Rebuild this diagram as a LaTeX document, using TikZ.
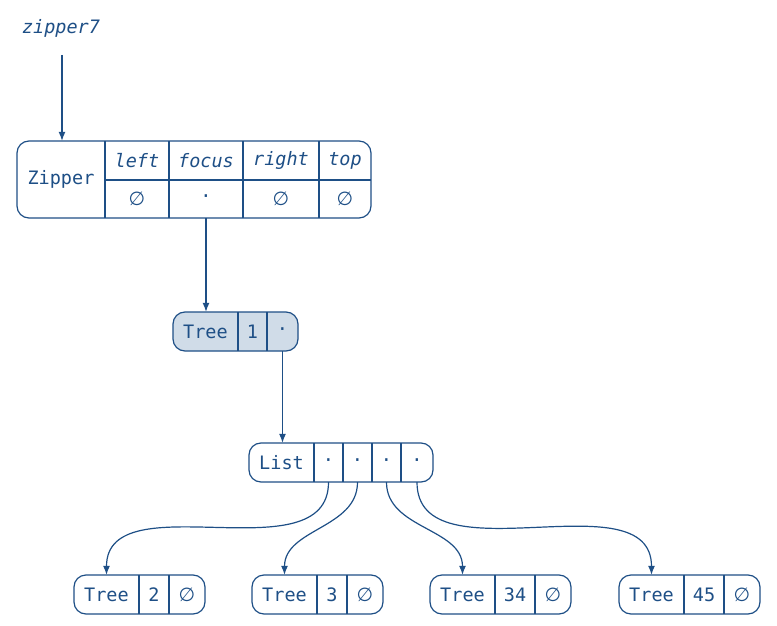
\documentclass[tikz,border=0pt]{standalone}
\usepackage{fontspec}
\setmonofont{DejaVu Sans Mono}
\newfontfamily\symfont{DejaVu Sans}
\usetikzlibrary{arrows.meta}
\definecolor{ink}{HTML}{1E4F86}
\definecolor{hl}{HTML}{D0DCE8}
\newcommand{\emptyglyph}{{\symfont\fontsize{19}{19}\selectfont ∅}}
\tikzset{
  cell/.style={inner sep=0pt, text=ink, font=\ttfamily\fontsize{18.5}{18.5}\selectfont, minimum height=38pt},
  icell/.style={cell, font=\ttfamily\itshape\fontsize{18.5}{18.5}\selectfont},
  box/.style={draw=ink, line width=1.2pt, rounded corners=12pt},
  sep/.style={draw=ink, line width=1.2pt},
  conn/.style={draw=ink, line width=1.2pt, -{Latex[length=9pt,width=7pt]}},
}
\begin{document}
\begin{tikzpicture}[x=1pt,y=-1pt]
\useasboundingbox (0,0) rectangle (777,626);
% label
\node[icell] (lbl) at (61,28) {zipper7};
\coordinate (lblend) at (62,55);
% Zipper record
\draw[box] (17,141) rectangle (371,218);
\draw[sep] (105,141) -- (105,218) (169,141) -- (169,218) (243,141) -- (243,218) (319,141) -- (319,218) (105,180) -- (371,180);
\node[cell, minimum width=88pt, minimum height=77pt] (zname) at (61,179.5) {Zipper};
\node[icell, minimum width=64pt, minimum height=39pt] (zlh) at (137,160.5) {left};
\node[icell, minimum width=74pt, minimum height=39pt] (zfh) at (206,160.5) {focus};
\node[icell, minimum width=76pt, minimum height=39pt] (zrh) at (281,160.5) {right};
\node[icell, minimum width=52pt, minimum height=39pt] (zth) at (345,160.5) {top};
\node[cell, minimum width=64pt] (zlv) at (137,199) {\emptyglyph};
\node[cell, minimum width=74pt] (zfv) at (206,199) {·};
\node[cell, minimum width=76pt] (zrv) at (281,199) {\emptyglyph};
\node[cell, minimum width=52pt] (ztv) at (345,199) {\emptyglyph};
% Tree 1
\draw[box, fill=hl] (173,312) rectangle (298,351);
\draw[sep] (238,312) -- (238,351) (267,312) -- (267,351);
\node[cell, minimum width=65pt, minimum height=39pt] (t1n) at (205.5,331.5) {Tree};
\node[cell, minimum width=29pt, minimum height=39pt] (t1v) at (252.5,331.5) {1};
\node[cell, minimum width=31pt, minimum height=39pt] (t1c) at (282.5,331.5) {·};
% List
\draw[box] (249,443) rectangle (433,482);
\draw[sep] (314,443) -- (314,482) (343,443) -- (343,482) (372,443) -- (372,482) (401,443) -- (401,482);
\node[cell, minimum width=65pt, minimum height=39pt] (ln) at (281.5,462.5) {List};
\node[cell, minimum width=29pt, minimum height=39pt] (l1) at (328.5,462.5) {·};
\node[cell, minimum width=29pt, minimum height=39pt] (l2) at (357.5,462.5) {·};
\node[cell, minimum width=29pt, minimum height=39pt] (l3) at (386.5,462.5) {·};
\node[cell, minimum width=32pt, minimum height=39pt] (l4) at (417,462.5) {·};
% Tree 2
\draw[box] (74,575) rectangle (205,614);
\draw[sep] (139,575) -- (139,614) (169,575) -- (169,614);
\node[cell, minimum width=65pt, minimum height=39pt] (t2n) at (106.5,594.5) {Tree};
\node[cell, minimum width=30pt, minimum height=39pt] (t2v) at (154,594.5) {2};
\node[cell, minimum width=36pt, minimum height=39pt] (t2c) at (187,594.5) {\emptyglyph};
% Tree 3
\draw[box] (252,575) rectangle (383,614);
\draw[sep] (317,575) -- (317,614) (347,575) -- (347,614);
\node[cell, minimum width=65pt, minimum height=39pt] (t3n) at (284.5,594.5) {Tree};
\node[cell, minimum width=30pt, minimum height=39pt] (t3v) at (332,594.5) {3};
\node[cell, minimum width=36pt, minimum height=39pt] (t3c) at (365,594.5) {\emptyglyph};
% Tree 34
\draw[box] (430,575) rectangle (571,614);
\draw[sep] (495,575) -- (495,614) (535,575) -- (535,614);
\node[cell, minimum width=65pt, minimum height=39pt] (t4n) at (462.5,594.5) {Tree};
\node[cell, minimum width=40pt, minimum height=39pt] (t4v) at (515,594.5) {34};
\node[cell, minimum width=36pt, minimum height=39pt] (t4c) at (553,594.5) {\emptyglyph};
% Tree 45
\draw[box] (619,575) rectangle (760,614);
\draw[sep] (684,575) -- (684,614) (724,575) -- (724,614);
\node[cell, minimum width=65pt, minimum height=39pt] (t5n) at (651.5,594.5) {Tree};
\node[cell, minimum width=40pt, minimum height=39pt] (t5v) at (704,594.5) {45};
\node[cell, minimum width=36pt, minimum height=39pt] (t5c) at (742,594.5) {\emptyglyph};
% connectors
\draw[conn] (lblend) -- (lblend |- zname.north);
\draw[conn] (zfv.south) -- (zfv.south |- t1n.north);
\draw[conn] (t1c.south) -- (t1c.south |- ln.north);
\draw[conn] (l1.south) to[out=-90,in=90] (t2n.north);
\draw[conn] (l2.south) to[out=-90,in=90] (t3n.north);
\draw[conn] (l3.south) to[out=-90,in=90] (t4n.north);
\draw[conn] (l4.south) to[out=-90,in=90] (t5n.north);
\end{tikzpicture}
\end{document}
